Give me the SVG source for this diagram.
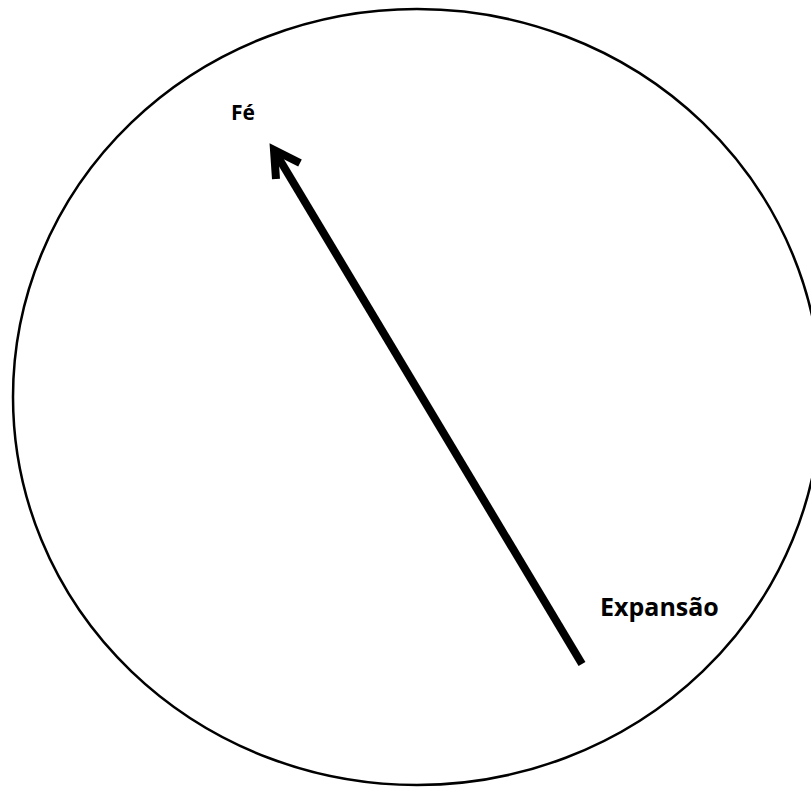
<svg xmlns="http://www.w3.org/2000/svg" width="811" height="787" viewBox="0 0 811 787">
<style>
.lbl{font-family:"Open Sans","Liberation Sans",sans-serif;font-weight:bold;fill:#000}
.conn{stroke:#000;stroke-width:8;fill:none;stroke-linecap:butt;stroke-linejoin:miter}
</style>
<rect width="811" height="787" fill="#fff"/>
<g id="circle"><ellipse cx="417" cy="397" rx="404" ry="388" fill="none" stroke="#000" stroke-width="2.5"/></g>
<g id="fe"><text class="lbl" x="231" y="120" font-size="21">Fé</text></g>
<g id="expansao"><text class="lbl" x="600" y="616" font-size="25">Expansão</text></g>
<g id="connectors">
<line class="conn" x1="582" y1="664" x2="275" y2="152"/>
<polyline class="conn" points="276,179 274,150 300,163"/>
</g>
</svg>
